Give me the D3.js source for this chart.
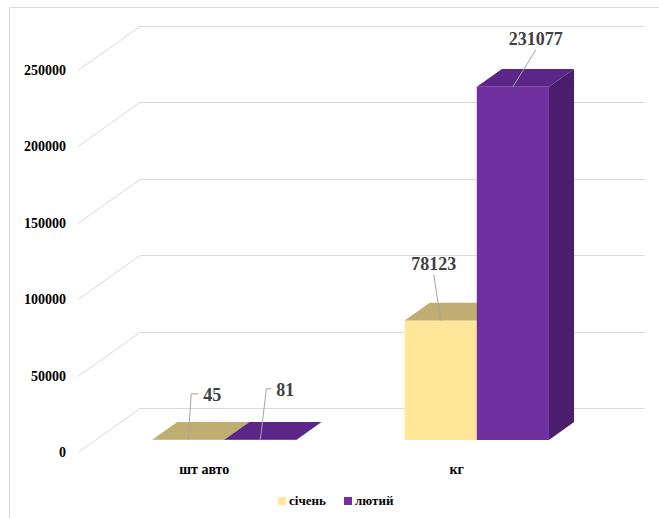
<!DOCTYPE html>
<html>
<head>
<meta charset="utf-8">
<script src="https://cdn.jsdelivr.net/npm/d3@7"></script>
<style>
  html, body { margin: 0; padding: 0; background: #fff; }
  svg { display: block; }
</style>
</head>
<body>
<svg id="chart" width="659" height="518"></svg>
<script>
// ---- data ----
const categories = ["шт авто", "кг"];
const seriesNames = ["січень", "лютий"];
const valuesJan = [45, 78123];
const valuesFeb = [81, 231077];
const yTicks = [0, 50000, 100000, 150000, 200000, 250000];

// ---- layout / style ----
const W = 659, H = 518;
const DX = 62, DY = 44;             // depth projection of the floor
const D0 = 0.275, D1 = 0.68;        // bar depth range (front/back)
const frontLeft = 78, frontRight = 583;
const faces = {
  "січень": { front: "#FFE699", top: "#BFAD72", side: "#C9B670" },
  "лютий":  { front: "#7030A0", top: "#5B2687", side: "#4A1D6D" }
};
const gridColor = "#d9d9d9";
const labelColor = "#404040";
const leaderColor = "#a6a6a6";
const serif = "'Liberation Serif', 'Times New Roman', 'DejaVu Serif', serif";

const svg = d3.select("#chart");

// frame
svg.append("path")
  .attr("d", `M9.5,${H} L9.5,7.5 L${W},7.5`)
  .attr("fill", "none").attr("stroke", gridColor).attr("stroke-width", 1);

const y = d3.scaleLinear().domain([0, 250000]).range([452, 70]);
const x0 = d3.scaleBand().domain(categories).range([frontLeft, frontRight]);
const x1 = d3.scaleBand().domain(seriesNames).range([0, x0.bandwidth()])
  .paddingInner(0).paddingOuter(0.75);

const proj = (px, py, d) => [px + d * DX, py - d * DY];

// gridlines: side wall diagonal + back wall
const grid = svg.append("g");
yTicks.forEach(t => {
  const yf = Math.round(y(t)) + 0.5;
  const [bx, by] = proj(frontLeft, yf, 1);
  grid.append("path")
    .attr("d", `M${frontLeft},${yf} L${bx},${by} L${frontRight + DX},${by}`)
    .attr("fill", "none").attr("stroke", gridColor).attr("stroke-width", 1);
});

// y tick labels
svg.append("g").selectAll("text").data(yTicks).join("text")
  .attr("x", 66).attr("y", d => y(d) + 5)
  .attr("text-anchor", "end")
  .attr("font-family", serif).attr("font-weight", "bold")
  .attr("font-size", 14).attr("fill", "#000")
  .text(d => d);

// bars
const rows = [];
categories.forEach((c, i) => {
  rows.push({ cat: c, s: "січень", v: valuesJan[i] });
  rows.push({ cat: c, s: "лютий", v: valuesFeb[i] });
});

const shift = 3;
const barsG = svg.append("g");
rows.forEach(r => {
  const xl = x0(r.cat) + x1(r.s) + shift;
  const xr = xl + x1.bandwidth();
  const yt = y(r.v), yb = y(0);
  const f = faces[r.s];
  const P = (px, py, d) => proj(px, py, d).join(",");
  barsG.append("polygon")
    .attr("points", [P(xr, yt, D0), P(xr, yt, D1), P(xr, yb, D1), P(xr, yb, D0)].join(" "))
    .attr("fill", f.side);
  barsG.append("polygon")
    .attr("points", [P(xl, yt, D0), P(xr, yt, D0), P(xr, yb, D0), P(xl, yb, D0)].join(" "))
    .attr("fill", f.front);
  barsG.append("polygon")
    .attr("points", [P(xl, yt, D0), P(xr, yt, D0), P(xr, yt, D1), P(xl, yt, D1)].join(" "))
    .attr("fill", f.top);
  r.anchor = proj((xl + xr) / 2, yt, D0);
});

// data labels with leader lines (offsets relative to bar front-top centre)
const labelOffsets = [
  { lx: 3, ly: -46, tick: 7, tx: 15, ty: -39, anchor: "start" },   // 45
  { lx: 6, ly: -51, tick: 5, tx: 16, ty: -44, anchor: "start" },   // 81
  { lx: -7, ly: -46, tick: 0, tx: -7, ty: -51, anchor: "middle" }, // 78123
  { lx: 23, ly: -37, tick: 0, tx: 23, ty: -42, anchor: "middle" }  // 231077
];
const labelsG = svg.append("g");
rows.forEach((r, i) => {
  const o = labelOffsets[i];
  const [ax, ay] = r.anchor;
  const ex = ax + o.lx, ey = ay + o.ly;
  let d = `M${ax},${ay} L${ex},${ey}`;
  if (o.tick) d += ` L${ex + o.tick},${ey}`;
  labelsG.append("path").attr("d", d)
    .attr("fill", "none").attr("stroke", leaderColor).attr("stroke-width", 1);
  labelsG.append("text")
    .attr("x", ax + o.tx).attr("y", ay + o.ty)
    .attr("text-anchor", o.anchor)
    .attr("font-family", serif).attr("font-weight", "bold")
    .attr("font-size", 18).attr("fill", labelColor)
    .text(r.v);
});

// category labels
svg.append("g").selectAll("text").data(categories).join("text")
  .attr("x", d => x0(d) + x0.bandwidth() / 2)
  .attr("y", 474)
  .attr("text-anchor", "middle")
  .attr("font-family", serif).attr("font-weight", "bold")
  .attr("font-size", 14).attr("fill", "#000")
  .text(d => d);

// legend
const legendX = [278, 344];
const lg = svg.append("g");
seriesNames.forEach((s, i) => {
  lg.append("rect").attr("x", legendX[i]).attr("y", 497).attr("width", 8).attr("height", 8)
    .attr("fill", faces[s].front);
  lg.append("text").attr("x", legendX[i] + 11).attr("y", 505)
    .attr("font-family", serif).attr("font-weight", "bold")
    .attr("font-size", 13).attr("fill", "#000")
    .text(s);
});
</script>
</body>
</html>
